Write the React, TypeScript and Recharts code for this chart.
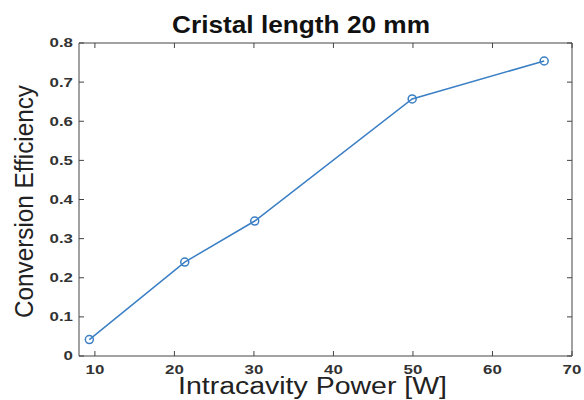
import React from 'react';
import { ComposedChart, Line, Scatter, XAxis, YAxis } from 'recharts';

const powers = [9.3, 21.3, 30.1, 49.9, 66.5];
const efficiencies = [0.042, 0.24, 0.345, 0.657, 0.754];
const xTicks = [10, 20, 30, 40, 50, 60, 70];
const yTicks = [0, 0.1, 0.2, 0.3, 0.4, 0.5, 0.6, 0.7, 0.8];

const xMin = 8;
const xMax = 70;
const yMax = 0.8;

const data = powers.map((p, i) => ({ power: p, eff: efficiencies[i] }));
// top and right edges of the box, plus inward tick marks on all four sides
const frame = [
  { power: xMin, eff: yMax },
  { power: xMax, eff: yMax },
  { power: xMax, eff: 0 },
];
const topTicks = xTicks.map((t) => ({ power: t, eff: yMax }));
const bottomTicks = xTicks.map((t) => ({ power: t, eff: 0 }));
const rightTicks = yTicks.map((t) => ({ power: xMax, eff: t }));
const leftTicks = yTicks.map((t) => ({ power: xMin, eff: t }));

const font = 'Liberation Sans, Arial, Helvetica, sans-serif';
const axisColor = '#444';

// the source picture is a bit wider than tall, so texts are stretched sideways
const StretchTick = (props: any) => {
  const { x, y, payload, textAnchor, vertical } = props;
  const v = payload.value;
  const label = v === 0 ? '0' : String(v);
  return (
    <g transform={`translate(${x},${y}) scale(1.35,1)`}>
      <text x={0} y={0} dy={vertical ? '0.355em' : '0.71em'} textAnchor={textAnchor} fontSize={12.5} fontWeight={700} fill="#333" fontFamily={font}>
        {label}
      </text>
    </g>
  );
};

export default function App() {
  return (
    <div style={{ position: 'absolute', left: 0, top: 0, width: 584, height: 400, background: '#fff' }}>
      <ComposedChart width={584} height={400} data={data} margin={{ top: 43, right: 12, left: 0, bottom: 0 }}>
        <XAxis
          dataKey="power"
          type="number"
          domain={[xMin, xMax]}
          ticks={xTicks}
          height={44}
          stroke={axisColor}
          tickLine={false}
          tickSize={0}
          tickMargin={9}
          tick={<StretchTick />}
        />
        <YAxis
          type="number"
          domain={[0, yMax]}
          ticks={yTicks}
          width={79}
          stroke={axisColor}
          tickLine={false}
          tickSize={0}
          tickMargin={6}
          tick={<StretchTick vertical />}
        />
        <Line data={frame} dataKey="eff" stroke={axisColor} strokeWidth={1} dot={false} activeDot={false} isAnimationActive={false} />
        <Scatter
          data={topTicks}
          dataKey="eff"
          isAnimationActive={false}
          shape={(p: any) => <line x1={p.cx} y1={p.cy} x2={p.cx} y2={p.cy + 5} stroke={axisColor} />}
        />
        <Scatter
          data={bottomTicks}
          dataKey="eff"
          isAnimationActive={false}
          shape={(p: any) => <line x1={p.cx} y1={p.cy - 5} x2={p.cx} y2={p.cy} stroke={axisColor} />}
        />
        <Scatter
          data={rightTicks}
          dataKey="eff"
          isAnimationActive={false}
          shape={(p: any) => <line x1={p.cx - 5} y1={p.cy} x2={p.cx} y2={p.cy} stroke={axisColor} />}
        />
        <Scatter
          data={leftTicks}
          dataKey="eff"
          isAnimationActive={false}
          shape={(p: any) => <line x1={p.cx} y1={p.cy} x2={p.cx + 5} y2={p.cy} stroke={axisColor} />}
        />
        <Line
          dataKey="eff"
          stroke="#3b7fc4"
          strokeWidth={1.5}
          dot={{ r: 4, stroke: '#3b7fc4', strokeWidth: 1.5, fill: 'none' }}
          isAnimationActive={false}
        />
      </ComposedChart>
      <svg width={584} height={400} style={{ position: 'absolute', left: 0, top: 0, pointerEvents: 'none' }}>
        <text x={301} y={33} textAnchor="middle" fontSize={24} fontWeight={700} fill="#111" fontFamily={font} textLength={258} lengthAdjust="spacingAndGlyphs">
          Cristal length 20 mm
        </text>
        <text x={312.5} y={394} textAnchor="middle" fontSize={23} fill="#222" fontFamily={font} textLength={269} lengthAdjust="spacingAndGlyphs">
          Intracavity Power [W]
        </text>
        <text
          x={33}
          y={201.5}
          transform="rotate(-90 33 201.5)"
          textAnchor="middle"
          fontSize={26}
          fill="#222"
          fontFamily={font}
          textLength={233}
          lengthAdjust="spacingAndGlyphs"
        >
          Conversion Efficiency
        </text>
      </svg>
    </div>
  );
}
